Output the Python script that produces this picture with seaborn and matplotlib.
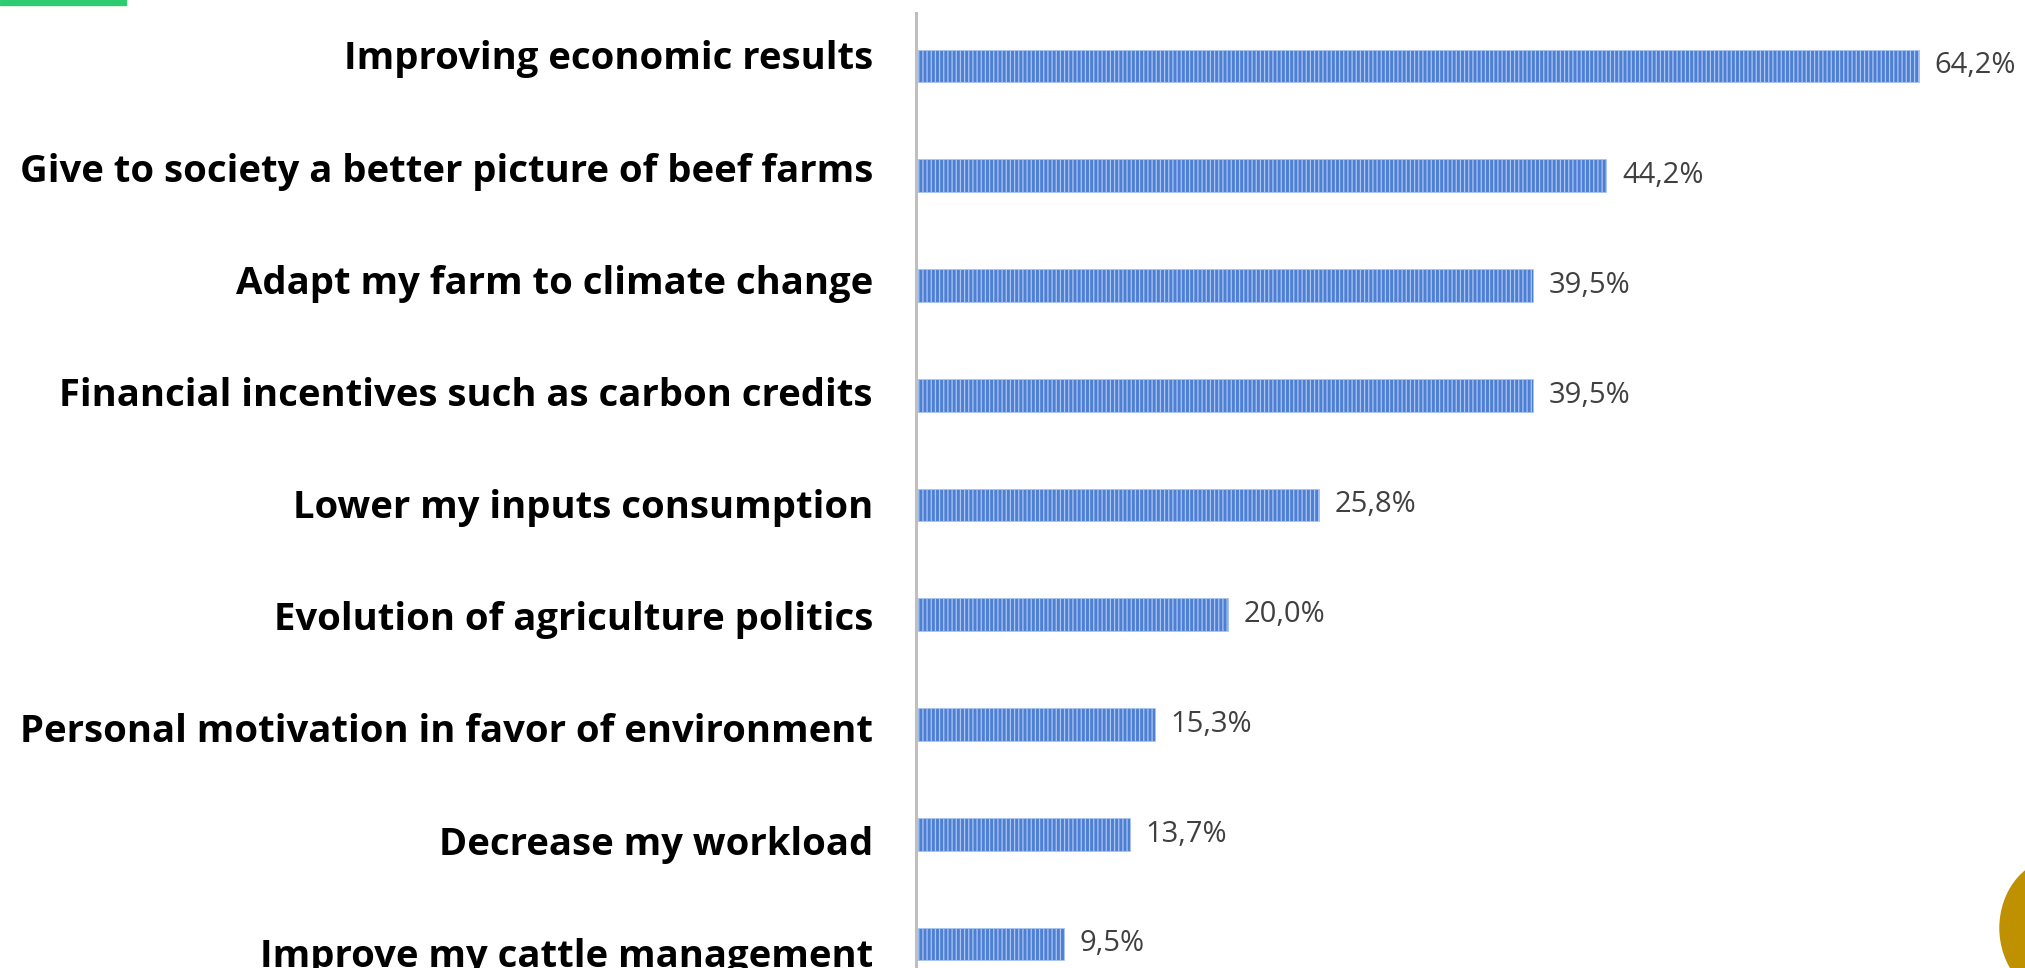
import matplotlib
matplotlib.use("Agg")
import matplotlib.pyplot as plt
import matplotlib.patches as mpatches
import matplotlib.transforms as mtransforms
import seaborn as sns
import pandas as pd

# values (percent of respondents)
categories = [
    "Improving economic results",
    "Give to society a better picture of beef farms",
    "Adapt my farm to climate change",
    "Financial incentives such as carbon credits",
    "Lower my inputs consumption",
    "Evolution of agriculture politics",
    "Personal motivation in favor of environment",
    "Decrease my workload",
    "Improve my cattle management",
]
values = [64.2, 44.2, 39.5, 39.5, 25.8, 20.0, 15.3, 13.7, 9.5]
value_labels = ["64,2%", "44,2%", "39,5%", "39,5%", "25,8%", "20,0%", "15,3%", "13,7%", "9,5%"]

df = pd.DataFrame({"reason": categories, "share": values})

sns.set_style("white")
plt.rcParams["font.family"] = ["Open Sans", "DejaVu Sans"]
plt.rcParams["hatch.linewidth"] = 0.9

fig = plt.figure(figsize=(20.25, 9.68), dpi=100)
ax = fig.add_axes([0.4523, 0.0, 0.54, 0.9866])

sns.barplot(data=df, x="share", y="reason", orient="h", color="#4D7FD4",
            saturation=1, width=0.3, ax=ax)

for p in ax.patches:
    p.set_hatch("||||")
    p.set_edgecolor("#ADC6F0")
    p.set_linewidth(0.5)

for i, (v, lab) in enumerate(zip(values, value_labels)):
    ax.text(v + 1.0, i, lab, va="center", ha="left", fontsize=21, color="#404040")

# category labels sit in their own text boxes on the slide, spaced a bit wider than the bars
ax.set_yticks([])
lab_tr = mtransforms.offset_copy(ax.get_yaxis_transform(), fig=fig, x=-43, y=0, units="dots")
for i, c in enumerate(categories):
    ax.text(0, -0.06 + i * 1.022, c, transform=lab_tr, ha="right", va="center",
            fontsize=27.5, fontweight="bold", color="black", clip_on=False)

ax.set_xlim(0, 70)
ax.set_ylim(8.219, -0.483)
ax.set_xlabel("")
ax.set_ylabel("")
ax.set_xticks([])

for s in ["top", "right", "bottom"]:
    ax.spines[s].set_visible(False)
ax.spines["left"].set_color("#BFBFBF")
ax.spines["left"].set_linewidth(2.2)

# decoration from the slide: green smear top-left, gold circle bottom-right
fig.patches.append(mpatches.Rectangle((0.0, 0.995), 0.062, 0.005, transform=fig.transFigure,
                                      color="#2ECC71", zorder=0))
fig.patches.append(mpatches.Ellipse((2060 / 2025, 1 - 928 / 968), 120 / 2025, 140 / 968,
                                    transform=fig.transFigure, color="#BF9000", zorder=0))

plt.savefig("out.png", dpi=100)
